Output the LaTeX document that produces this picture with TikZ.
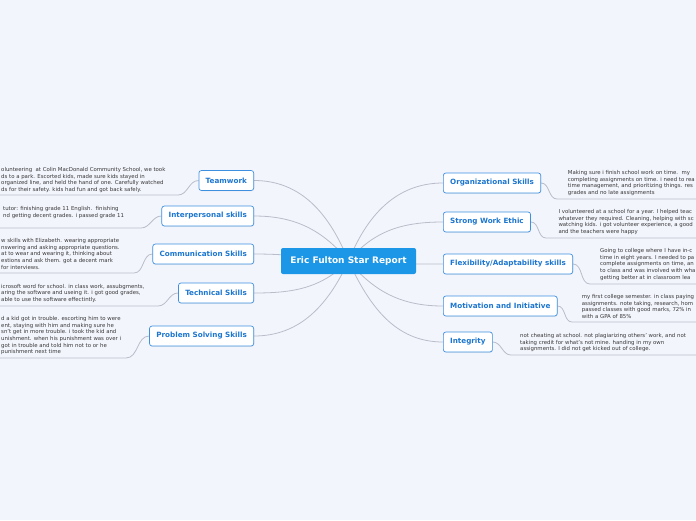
\documentclass[tikz,border=0pt]{standalone}
\usepackage{fontspec}
\setmainfont{DejaVu Sans}
\usetikzlibrary{positioning,backgrounds,shadows}
\definecolor{bg}{HTML}{F3F5FD}
\definecolor{acc}{HTML}{1C96E6}
\definecolor{edge}{HTML}{3D8FDF}
\definecolor{ink}{HTML}{1C76CF}
\definecolor{wire}{HTML}{B9BDC9}
\definecolor{txt}{HTML}{383838}
\tikzset{
  topic/.style={fill=acc,text=white,rounded corners=2pt,font=\fontsize{9}{11}\selectfont\bfseries,minimum width=135pt,minimum height=26pt,inner sep=0pt},
  box/.style={draw=edge,fill=white,line width=0.7pt,rounded corners=2.5pt,text=ink,font=\fontsize{7.2}{9}\selectfont\bfseries,minimum height=20pt,inner xsep=6.8pt,inner ysep=0pt,drop shadow={opacity=0.12,shadow xshift=0.6pt,shadow yshift=-0.8pt}},
  lab/.style={font=\fontsize{5.4}{6.6}\selectfont,text=txt,align=left,inner sep=0pt,anchor=north west},
  con/.style={draw=wire,line width=0.8pt},
}
\begin{document}
\begin{tikzpicture}[x=1pt,y=-1pt]
\useasboundingbox (0,0) rectangle (696,520);
\clip (0,0) rectangle (696,520);
% centre and branches
\node[topic] (root) at (348.5,261) {Eric Fulton Star Report};
\node[box,anchor=east] (team) at (254,180.5) {Teamwork};
\node[box,anchor=east] (inter) at (254,216) {Interpersonal skills};
\node[box,anchor=east] (comm) at (254,254) {Communication Skills};
\node[box,anchor=east] (tech) at (254,293) {Technical Skills};
\node[box,anchor=east] (prob) at (254,336) {Problem Solving Skills};
\node[box,anchor=west] (org) at (443,183) {Organizational Skills};
\node[box,anchor=west] (work) at (443,222) {Strong Work Ethic};
\node[box,anchor=west] (flex) at (443,264) {Flexibility/Adaptability skills};
\node[box,anchor=west] (moti) at (443,306) {Motivation and Initiative};
\node[box,anchor=west] (integ) at (443,342) {Integrity};
% notes
\node[lab] (teamT) at (1,167.4) {olunteering\ \ at Colin MacDonald Community School, we took\\ds to a park. Escorted kids, made sure kids stayed in\\organized line, and held the hand of one. Carefully watched\\ds for their safety. kids had fun and got back safely.};
\node[lab] (interT) at (3,206.4) {tutor: finishing grade 11 English.\ \ finishing\\nd getting decent grades. i passed grade 11};
\node[lab] (commT) at (1,238.4) {w skills with Elizabeth. wearing appropriate\\nswering and asking appropriate questions.\\at to wear and wearing it, thinking about\\estions and ask them. got a decent mark\\for interviews.};
\node[lab] (techT) at (1,284) {icrosoft word for school. in class work, assubgments,\\aring the software and useing it. i got good grades,\\able to use the software effectintly.};
\node[lab] (probT) at (1,316.4) {d a kid got in trouble. escorting him to were\\ent, staying with him and making sure he\\sn't get in more trouble. i took the kid and\\unishment. when his punishment was over i\\got in trouble and told him not to or he\\punishment next time};
\node[lab] (orgT) at (567.7,170.1) {Making sure i finish school work on time.\ \ my\\completing assignments on time. i need to rea\\time management, and prioritizing things. res\\grades and no late assignments};
\node[lab] (workT) at (558.3,209.1) {I volunteered at a school for a year. I helped teac\\whatever they required. Cleaning, helping with sc\\watching kids. i got volunteer experience, a good\\and the teachers were happy};
\node[lab] (flexT) at (600,248.4) {Going to college where I have in-c\\time in eight years. I needed to pa\\complete assignments on time, an\\to class and was involved with wha\\getting better at in classroom lea};
\node[lab] (motiT) at (581.7,294.1) {my first college semester. in class paying\\assignments. note taking, research, hom\\passed classes with good marks, 72\% in\\with a GPA of 85\%};
\node[lab] (integT) at (520,333.4) {not cheating at school. not plagiarizing others' work, and not\\taking credit for what's not mine. handing in my own\\assignments. I did not get kicked out of college.};
% underline ends
\coordinate (teamA) at (178,195); \coordinate (teamB) at (-2,195);
\coordinate (interA) at (141,228); \coordinate (interB) at (-2,228);
\coordinate (commA) at (134,273); \coordinate (commB) at (-2,273);
\coordinate (techA) at (158,306); \coordinate (techB) at (-2,306);
\coordinate (probA) at (126,358); \coordinate (probB) at (-2,358);
\coordinate (orgA) at (557,199); \coordinate (orgB) at (700,199);
\coordinate (workA) at (546,238); \coordinate (workB) at (700,238);
\coordinate (flexA) at (590,284); \coordinate (flexB) at (700,284);
\coordinate (motiA) at (572,322); \coordinate (motiB) at (700,322);
\coordinate (integA) at (511,355); \coordinate (integB) at (700,355);
\begin{scope}[on background layer]
\fill[bg] (0,0) rectangle (696,520);
\draw[con] (root.center) to[out=112,in=0] (team.east);
\draw[con] (root.center) to[out=130,in=0] (inter.east);
\draw[con] (root.center) to[out=175,in=0] (comm.east);
\draw[con] (root.center) to[out=225,in=0] (tech.east);
\draw[con] (root.center) to[out=245,in=0] (prob.east);
\draw[con] (root.center) to[out=68,in=180] (org.west);
\draw[con] (root.center) to[out=50,in=180] (work.west);
\draw[con] (root.center) to[out=-5,in=180] (flex.west);
\draw[con] (root.center) to[out=-50,in=180] (moti.west);
\draw[con] (root.center) to[out=-65,in=180] (integ.west);
\draw[con] (team.west) to[out=180,in=0] (teamA) -- (teamB);
\draw[con] (inter.west) to[out=180,in=0] (interA) -- (interB);
\draw[con] (comm.west) to[out=180,in=0] (commA) -- (commB);
\draw[con] (tech.west) to[out=180,in=0] (techA) -- (techB);
\draw[con] (prob.west) to[out=180,in=0] (probA) -- (probB);
\draw[con] (org.east) to[out=0,in=180] (orgA) -- (orgB);
\draw[con] (work.east) to[out=0,in=180] (workA) -- (workB);
\draw[con] (flex.east) to[out=0,in=180] (flexA) -- (flexB);
\draw[con] (moti.east) to[out=0,in=180] (motiA) -- (motiB);
\draw[con] (integ.east) to[out=0,in=180] (integA) -- (integB);
\end{scope}
\end{tikzpicture}
\end{document}
